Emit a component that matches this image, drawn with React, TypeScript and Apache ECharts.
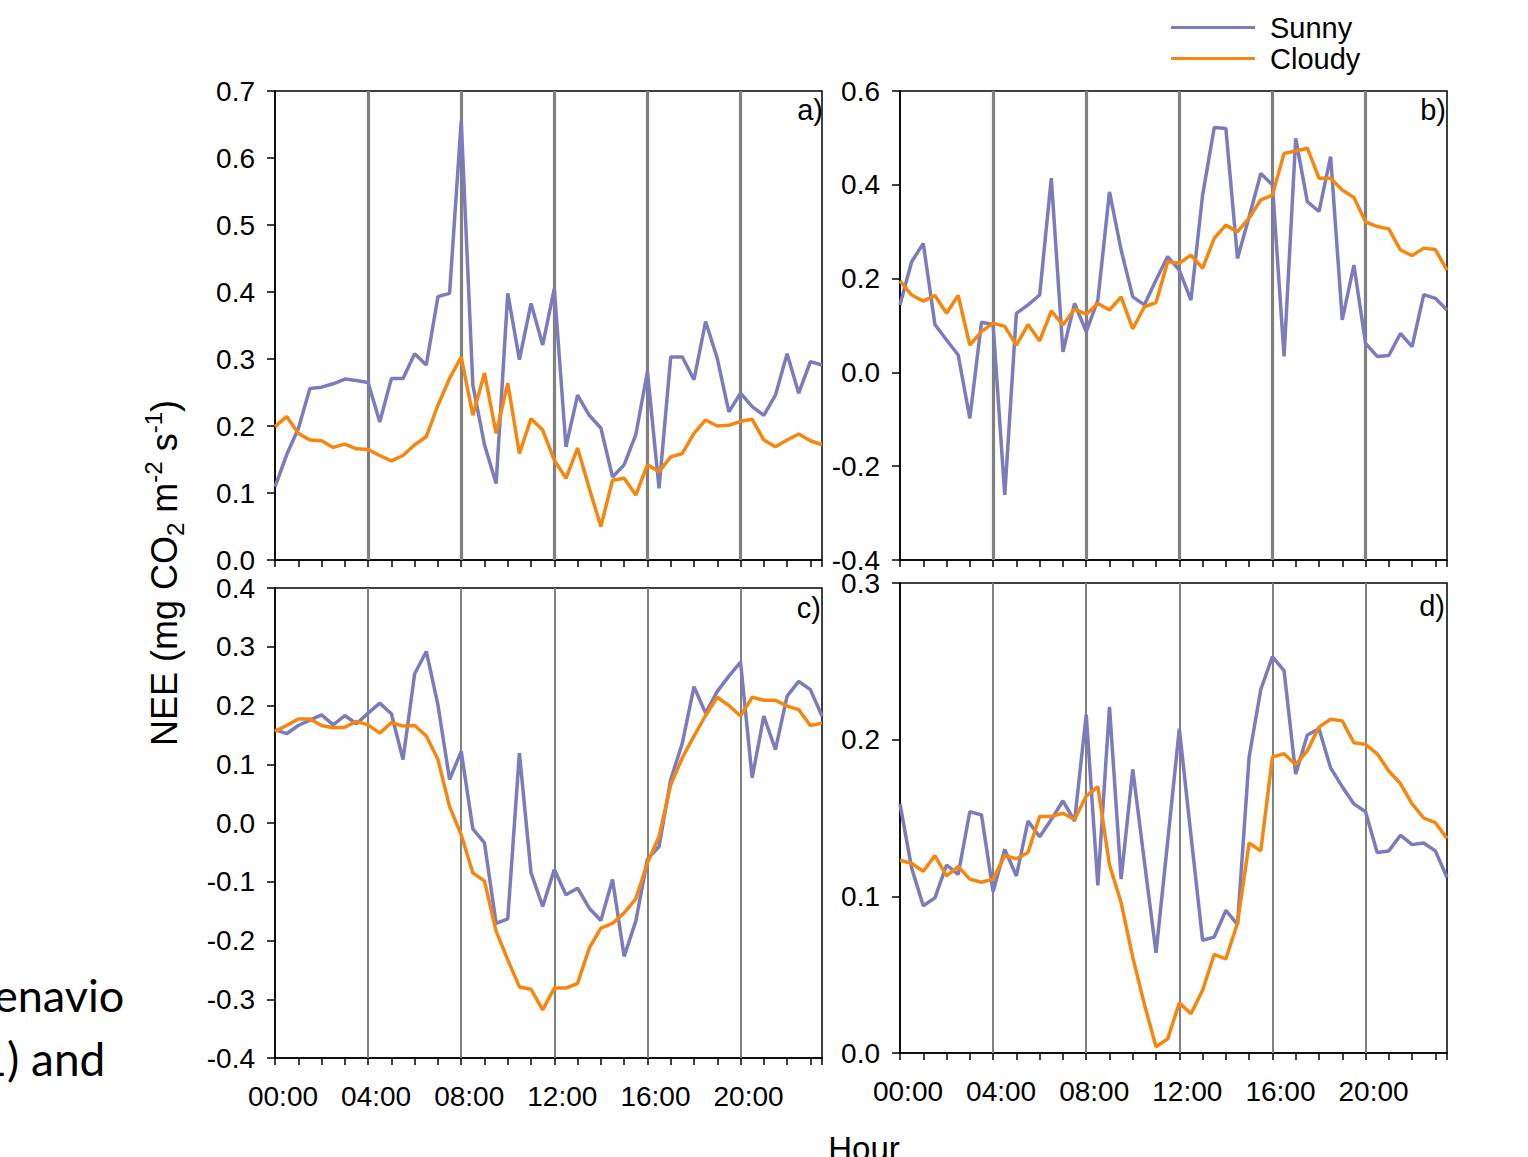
import React, { useEffect, useRef } from "react";
import * as echarts from "echarts";

// Half-hour time stamps (hours)
const hours = [
  0, 0.5, 1, 1.5, 2, 2.5, 3, 3.5, 4, 4.5, 5, 5.5, 6, 6.5, 7, 7.5, 8, 8.5, 9, 9.5, 10, 10.5, 11, 11.5,
  12, 12.5, 13, 13.5, 14, 14.5, 15, 15.5, 16, 16.5, 17, 17.5, 18, 18.5, 19, 19.5, 20, 20.5, 21, 21.5,
  22, 22.5, 23, 23.5,
];
const gridHours = [4, 8, 12, 16, 20];
const seriesNames = ["Sunny", "Cloudy"];
const panelLabels = ["a)", "b)", "c)", "d)"];

const sunnyA = [0.109, 0.157, 0.196, 0.256, 0.258, 0.263, 0.27, 0.268, 0.265, 0.206, 0.271, 0.271, 0.308, 0.291, 0.393, 0.398, 0.655, 0.261, 0.172, 0.114, 0.398, 0.299, 0.383, 0.321, 0.405, 0.169, 0.246, 0.216, 0.197, 0.124, 0.142, 0.187, 0.281, 0.107, 0.303, 0.303, 0.269, 0.356, 0.301, 0.221, 0.249, 0.229, 0.216, 0.246, 0.308, 0.249, 0.296, 0.291];
const cloudyA = [0.199, 0.214, 0.189, 0.179, 0.178, 0.168, 0.173, 0.166, 0.165, 0.156, 0.148, 0.156, 0.172, 0.184, 0.231, 0.271, 0.303, 0.216, 0.279, 0.189, 0.264, 0.159, 0.211, 0.194, 0.149, 0.122, 0.167, 0.107, 0.05, 0.119, 0.122, 0.097, 0.142, 0.132, 0.154, 0.159, 0.189, 0.209, 0.2, 0.201, 0.207, 0.21, 0.179, 0.169, 0.179, 0.188, 0.178, 0.172];

const sunnyB = [0.144, 0.236, 0.275, 0.102, 0.069, 0.037, -0.098, 0.107, 0.102, -0.261, 0.126, 0.144, 0.165, 0.414, 0.044, 0.147, 0.087, 0.154, 0.385, 0.261, 0.161, 0.144, 0.197, 0.247, 0.218, 0.154, 0.378, 0.522, 0.52, 0.243, 0.332, 0.424, 0.4, 0.034, 0.499, 0.364, 0.343, 0.46, 0.112, 0.229, 0.062, 0.034, 0.036, 0.083, 0.055, 0.166, 0.158, 0.133];
const cloudyB = [0.195, 0.165, 0.152, 0.164, 0.126, 0.164, 0.058, 0.087, 0.105, 0.098, 0.058, 0.102, 0.067, 0.131, 0.101, 0.135, 0.124, 0.147, 0.133, 0.161, 0.093, 0.14, 0.149, 0.236, 0.233, 0.25, 0.222, 0.286, 0.314, 0.3, 0.329, 0.368, 0.378, 0.467, 0.472, 0.478, 0.414, 0.414, 0.389, 0.373, 0.321, 0.311, 0.306, 0.261, 0.249, 0.265, 0.262, 0.218];

const sunnyC = [0.159, 0.152, 0.166, 0.175, 0.184, 0.167, 0.183, 0.169, 0.187, 0.204, 0.186, 0.108, 0.254, 0.292, 0.201, 0.074, 0.122, -0.01, -0.034, -0.171, -0.163, 0.119, -0.085, -0.142, -0.079, -0.122, -0.111, -0.145, -0.166, -0.096, -0.227, -0.167, -0.062, -0.04, 0.074, 0.136, 0.232, 0.187, 0.224, 0.25, 0.274, 0.077, 0.182, 0.125, 0.216, 0.241, 0.227, 0.182];
const cloudyC = [0.156, 0.166, 0.177, 0.177, 0.166, 0.162, 0.163, 0.173, 0.167, 0.153, 0.171, 0.165, 0.166, 0.148, 0.108, 0.028, -0.02, -0.085, -0.099, -0.184, -0.233, -0.279, -0.283, -0.318, -0.281, -0.281, -0.273, -0.213, -0.179, -0.171, -0.153, -0.129, -0.068, -0.023, 0.065, 0.111, 0.148, 0.183, 0.214, 0.2, 0.182, 0.214, 0.209, 0.209, 0.199, 0.193, 0.166, 0.17];

const sunnyD = [0.159, 0.118, 0.094, 0.099, 0.12, 0.114, 0.154, 0.152, 0.103, 0.13, 0.113, 0.148, 0.138, 0.149, 0.161, 0.148, 0.216, 0.107, 0.221, 0.111, 0.181, 0.122, 0.064, 0.135, 0.207, 0.139, 0.072, 0.074, 0.091, 0.082, 0.189, 0.232, 0.253, 0.244, 0.178, 0.203, 0.207, 0.182, 0.17, 0.159, 0.154, 0.128, 0.129, 0.139, 0.133, 0.134, 0.129, 0.112];
const cloudyD = [0.123, 0.121, 0.116, 0.126, 0.113, 0.119, 0.111, 0.109, 0.111, 0.126, 0.124, 0.128, 0.151, 0.151, 0.153, 0.149, 0.164, 0.17, 0.12, 0.096, 0.061, 0.031, 0.004, 0.009, 0.032, 0.025, 0.04, 0.063, 0.06, 0.083, 0.134, 0.129, 0.189, 0.191, 0.184, 0.193, 0.208, 0.213, 0.212, 0.198, 0.197, 0.191, 0.18, 0.172, 0.159, 0.15, 0.147, 0.137];

const yRanges = [
  { min: 0, max: 0.7, interval: 0.1 },
  { min: -0.4, max: 0.6, interval: 0.2 },
  { min: -0.4, max: 0.4, interval: 0.1 },
  { min: 0, max: 0.3, interval: 0.1 },
];
const sunnySets = [sunnyA, sunnyB, sunnyC, sunnyD];
const cloudySets = [cloudyA, cloudyB, cloudyC, cloudyD];

// layout (pixels)
const layout = [
  { left: 275, top: 91, width: 547, height: 469, showXLabels: false, gridW: 3.2 },
  { left: 900, top: 91, width: 547, height: 469, showXLabels: false, gridW: 3.2 },
  { left: 275, top: 588, width: 547, height: 470, showXLabels: true, gridW: 2 },
  { left: 900, top: 583, width: 547, height: 470, showXLabels: true, gridW: 2 },
];

const FONT = "'Liberation Sans', Arial, sans-serif";
const SUNNY = "#7b7bbd";
const CLOUDY = "#f5870f";

function fmtHour(v: number) {
  if (v % 4 !== 0) return "";
  const h = String(v).padStart(2, "0");
  return h + ":00";
}

export default function App() {
  const ref = useRef<HTMLDivElement>(null);
  useEffect(() => {
    if (!ref.current) return;
    const chart = echarts.init(ref.current, null, { renderer: "svg" });

    const grids = layout.map((l) => ({
      left: l.left,
      top: l.top,
      width: l.width,
      height: l.height,
      show: true,
      borderColor: "#000",
      borderWidth: 1.5,
      backgroundColor: "transparent",
      containLabel: false,
      outerBoundsMode: "none",
    }));

    const xAxes = layout.map((l, i) => ({
      type: "value",
      gridIndex: i,
      min: 0,
      max: 23.5,
      interval: 1,
      axisLine: { show: true, onZero: false, lineStyle: { color: "#000", width: 1.5 } },
      axisTick: { show: true, length: 7, lineStyle: { color: "#000", width: 1.5 } },
      axisLabel: {
        show: l.showXLabels,
        formatter: (v: number) => fmtHour(v),
        color: "#000",
        fontSize: 28,
        fontFamily: FONT,
        margin: 24,
        padding: [0, 0, 0, 16],
      },
      splitLine: { show: false },
    }));

    const yAxes = yRanges.map((r, i) => ({
      type: "value",
      gridIndex: i,
      min: r.min,
      max: r.max,
      interval: r.interval,
      axisLine: { show: true, onZero: false, lineStyle: { color: "#000", width: 1.5 } },
      axisTick: { show: true, length: 8, lineStyle: { color: "#000", width: 1.5 } },
      axisLabel: {
        formatter: (v: number) => v.toFixed(1),
        color: "#000",
        fontSize: 28,
        fontFamily: FONT,
        margin: 20,
      },
      splitLine: { show: false },
    }));

    const series: any[] = [];
    for (let i = 0; i < 4; i++) {
      series.push({
        name: seriesNames[0],
        type: "line",
        xAxisIndex: i,
        yAxisIndex: i,
        data: hours.map((h, k) => [h, sunnySets[i][k]]),
        showSymbol: false,
        symbol: "none",
        color: SUNNY,
        lineStyle: { color: SUNNY, width: 3.5 },
        z: 3,
        markLine: {
          silent: true,
          z: 1,
          symbol: ["none", "none"],
          label: { show: false },
          lineStyle: { color: "#808080", width: layout[i].gridW, type: "solid" },
          data: gridHours.map((g) => ({ xAxis: g })),
        },
      });
      series.push({
        name: seriesNames[1],
        type: "line",
        xAxisIndex: i,
        yAxisIndex: i,
        data: hours.map((h, k) => [h, cloudySets[i][k]]),
        showSymbol: false,
        symbol: "none",
        color: CLOUDY,
        lineStyle: { color: CLOUDY, width: 3.5 },
        z: 4,
      });
    }

    const labelPos = [
      { x: 823, y: 110 },
      { x: 1446, y: 110 },
      { x: 821, y: 608 },
      { x: 1445, y: 606 },
    ];

    const graphic: any[] = panelLabels.map((t, i) => ({
      type: "text",
      x: labelPos[i].x,
      y: labelPos[i].y,
      style: {
        text: t,
        fill: "#000",
        fontSize: 29,
        fontFamily: FONT,
        align: "right",
        verticalAlign: "middle",
      },
      z: 10,
    }));

    graphic.push({
      type: "text",
      x: 164,
      y: 573,
      rotation: Math.PI / 2,
      style: {
        text: "{n|NEE (mg CO}{sub|2}{n| m}{sup|-2}{n| s}{sup|-1}{n|)}",
        rich: {
          n: { fontSize: 36, lineHeight: 46, fontFamily: FONT, fill: "#000" },
          sub: { fontSize: 24, lineHeight: 22, fontFamily: FONT, fill: "#000", verticalAlign: "bottom" },
          sup: { fontSize: 24, lineHeight: 22, fontFamily: FONT, fill: "#000", verticalAlign: "top" },
        },
        align: "center",
        verticalAlign: "middle",
      },
    });

    graphic.push({
      type: "text",
      x: 864,
      y: 1148,
      style: {
        text: "Hour",
        fill: "#000",
        fontSize: 33,
        fontFamily: FONT,
        align: "center",
        verticalAlign: "middle",
      },
    });

    graphic.push({
      type: "text",
      x: -6,
      y: 995,
      style: {
        text: "enavio",
        fill: "#000",
        fontSize: 45,
        fontFamily: "Lato, 'Open Sans', sans-serif",
        align: "left",
        verticalAlign: "middle",
      },
    });
    graphic.push({
      type: "text",
      x: -32,
      y: 1058,
      style: {
        text: "(1) and",
        fill: "#000",
        fontSize: 46,
        fontFamily: "Lato, 'Open Sans', sans-serif",
        align: "left",
        verticalAlign: "middle",
      },
    });

    chart.setOption({
      animation: false,
      backgroundColor: "#fff",
      grid: grids,
      xAxis: xAxes,
      yAxis: yAxes,
      series,
      graphic,
      legend: {
        data: seriesNames,
        orient: "vertical",
        left: 1166,
        top: 8,
        icon: "rect",
        itemWidth: 84,
        itemHeight: 3,
        itemGap: 2,
        textStyle: {
          color: "#000",
          fontSize: 29,
          lineHeight: 29,
          fontFamily: FONT,
          padding: [0, 0, 0, 10],
        },
        selectedMode: false,
      },
    });

    return () => chart.dispose();
  }, []);

  return (
    <div
      ref={ref}
      style={{ position: "absolute", left: 0, top: 0, width: 1528, height: 1157, background: "#fff", overflow: "hidden" }}
    />
  );
}
